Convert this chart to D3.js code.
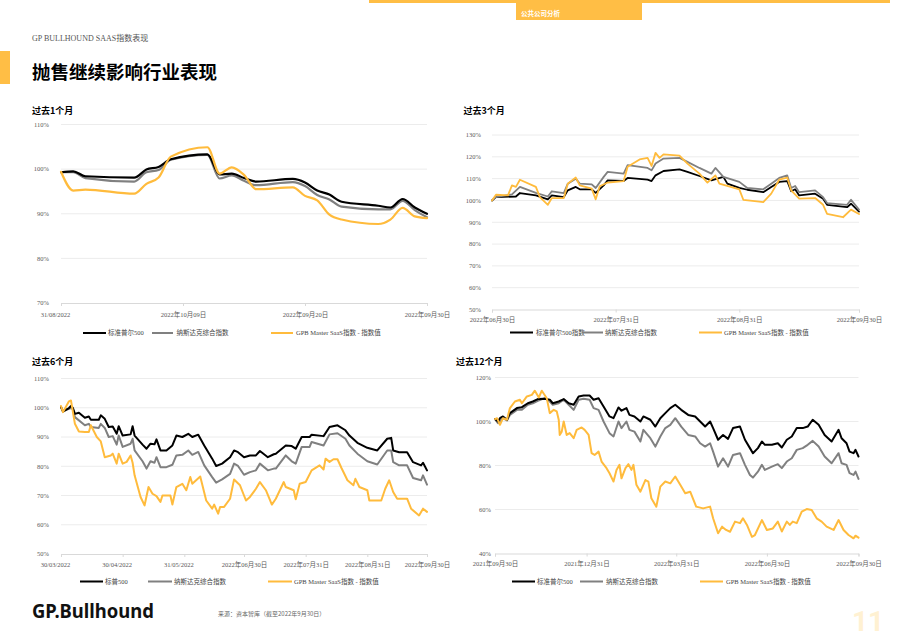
<!DOCTYPE html>
<html>
<head>
<meta charset="utf-8">
<script src="https://cdn.jsdelivr.net/npm/d3@7"></script>
<style>
  body { margin: 0; background: #fff; }
  svg { display: block; }
</style>
</head>
<body>
<div id="page"></div>
<script>
// ---------- data: 1 month (trading days after 2022-08-31) ----------
const days1m = [0, 1, 2, 6, 7, 8, 9, 12, 13, 14, 15, 16, 19, 20, 21, 22, 23, 26, 27, 28, 29, 30];
const sp1m   = [99.3, 99.5, 98.4, 98.1, 99.9, 100.5, 102.2, 103.3, 98.8, 99.0, 98.0, 97.2, 97.8, 97.0, 95.2, 94.3, 92.7, 91.8, 91.4, 93.3, 91.4, 90.0];
const nq1m   = [99.3, 99.3, 98.0, 97.2, 99.3, 99.8, 102.1, 103.2, 97.9, 98.6, 97.4, 96.4, 97.1, 96.2, 94.2, 93.2, 91.6, 91.0, 91.0, 92.9, 90.8, 89.2];
const saas1m = [99.4, 95.2, 95.4, 94.5, 96.7, 98.1, 102.8, 104.9, 99.0, 100.4, 98.7, 95.5, 95.9, 94.0, 93.0, 89.8, 88.7, 87.7, 88.7, 91.3, 89.4, 89.0];
const ticks1m  = [0, 10, 20, 30];
const labels1m = ["31/08/2022", "2022年10月09日", "2022年09月20日", "2022年09月30日"];

// ---------- data: 3 months ([days after 2022-06-30, %]) ----------
const sp3m = [[0,100],[1,101.5],[6,101.8],[7,103.4],[11,102.3],[14,100.5],[15,102.3],[18,101.5],[19,104.6],[21,106.2],[22,105.1],[25,105.1],[26,103.5],[28,106.9],[29,109.2],[33,108.9],[34,110.3],[39,109.5],[40,108.9],[41,111.5],[43,113.5],[47,114.2],[49,113.1],[52,111.2],[55,109.2],[58,110.8],[59,107.7],[62,105.8],[64,104.9],[68,103.8],[70,106.2],[72,108.5],[74,108.9],[75,104.2],[76,105.1],[77,102.3],[81,103.1],[83,100.8],[84,98],[89,96.9],[90,98.5],[92,94.9]];
const nq3m = [[0,100],[1,101.5],[5,102.8],[7,106.2],[11,103.5],[14,101.8],[15,104.2],[18,103.4],[19,107.7],[21,110],[22,107.7],[25,107.4],[26,105.7],[28,110.8],[29,113.1],[33,112.3],[34,116.2],[39,114.9],[40,113.8],[41,116.9],[43,119.2],[47,119.5],[49,117.7],[52,114.9],[55,112.3],[56,114.9],[58,110.8],[62,108.5],[64,105.7],[68,105.1],[70,107.7],[72,110.3],[74,111.5],[75,105.7],[76,106.6],[77,103.8],[81,104.6],[83,101.5],[84,98.8],[89,98],[90,100.3],[92,95.8]];
const saas3m = [[0,100],[1,102.6],[4,102.3],[5,106.9],[6,106.2],[7,109.5],[11,106.2],[12,101.5],[14,98],[15,101.1],[18,101.1],[19,107.7],[21,110.5],[22,106.9],[25,105.4],[26,100.5],[27,106.5],[29,108.2],[33,108.9],[34,115.4],[37,118.8],[39,119.5],[40,115.8],[41,121.8],[42,119.5],[43,121.1],[47,120.5],[49,116.9],[52,112.3],[54,108.2],[56,111.5],[57,107.7],[62,105.1],[63,100.3],[67,99.5],[68,99.2],[70,103.1],[72,109.5],[74,110.5],[75,104.6],[77,100.8],[81,101.1],[83,98],[84,93.8],[88,92.3],[90,95.8],[92,93.8]];
const ticks3m  = ["2022-06-30", "2022-07-31", "2022-08-31", "2022-09-30"];
const labels3m = ["2022年06月30日", "2022年07月31日", "2022年08月31日", "2022年09月30日"];

// ---------- data: 6 months ([days after 2022-03-30, %]) ----------
const sp6m = [[0,100.2],[1,98.7],[4,99.9],[5,100.6],[6,99.9],[7,97.9],[9,98.3],[12,96.6],[14,97],[15,95.9],[19,95.9],[20,97.4],[22,96.2],[24,93.4],[26,93.6],[28,91.1],[29,93.7],[31,90.5],[35,90.9],[36,93.7],[37,90.5],[41,87.4],[43,86],[45,87.7],[47,87.5],[48,89.2],[50,85.4],[53,85.4],[56,87.1],[58,90.5],[61,90],[64,91.1],[66,90],[69,90.8],[72,87.1],[76,82.6],[78,80.1],[81,80.9],[85,83.1],[87,85.4],[89,84.8],[92,83.1],[95,83.7],[98,83.7],[100,85.2],[104,83.1],[107,84.1],[108,84.3],[113,87.1],[116,86.9],[118,86],[121,90],[125,90],[126,90.8],[132,90.3],[135,93.4],[139,94],[143,92.3],[145,90.5],[149,88],[154,86.3],[159,85.4],[164,89.4],[166,89.7],[167,85.4],[170,84.8],[174,84.8],[177,81.4],[181,80.3],[182,81.2],[184,78.6]];
const nq6m = [[0,100.2],[1,98.9],[5,99.9],[6,99.5],[7,96.8],[12,94],[14,94.5],[15,93.4],[19,93.1],[20,94.5],[22,93.1],[24,90],[26,90.3],[28,87.4],[29,90.5],[31,86.6],[35,87.7],[36,89.4],[37,85.4],[41,81.7],[43,79.2],[45,81.7],[47,81.2],[48,83.1],[50,79.7],[53,79.7],[56,80.5],[58,83.7],[61,83.9],[64,85.4],[66,83.9],[69,84.9],[72,80.3],[76,76.3],[78,74.4],[81,75.5],[85,77.4],[87,80.9],[89,80.1],[92,77.1],[95,78],[98,78.6],[100,80.9],[104,78.6],[107,79.2],[108,79.2],[113,83.7],[116,81.7],[118,80.9],[121,86.6],[125,86.6],[126,88.3],[132,87.1],[135,90.9],[139,91.3],[143,89.4],[145,87.1],[149,84.3],[154,81.7],[159,80.6],[164,85.4],[166,85.4],[167,81.4],[170,80.3],[174,80.3],[177,76],[181,75.2],[182,76.9],[184,73.7]];
const saas6m = [[0,100.6],[1,98.5],[4,102.2],[5,102.5],[7,94.5],[9,91.9],[12,91.7],[14,91.7],[15,94],[18,90],[20,88.5],[22,83.1],[25,83.7],[26,84.3],[28,80.9],[29,84.3],[31,80.9],[33,81.5],[35,83.7],[36,81.2],[37,76.9],[40,69.5],[42,66.6],[44,72.9],[46,70.6],[48,69.8],[50,67.8],[51,70],[55,70],[56,66.9],[58,72.9],[61,74],[63,71.8],[65,76.3],[66,74],[70,76.5],[73,68.3],[76,65.5],[77,66.9],[79,63.8],[80,66.1],[82,66.1],[85,68.9],[87,75.5],[90,73.5],[92,70],[93,68.3],[95,69.5],[98,72.3],[100,74.6],[103,71.8],[106,66.9],[108,68.9],[112,74.6],[113,72.9],[117,71.8],[118,68.7],[120,74],[123,74.6],[126,78.6],[130,80.3],[132,78.9],[133,82.6],[135,81.5],[137,82.4],[139,82.4],[141,79.4],[144,75.2],[147,73.5],[148,75.7],[150,72.9],[154,71.8],[155,68.3],[159,68.3],[161,68.3],[163,72.3],[165,75.2],[167,71.2],[169,68.9],[174,68.9],[176,65.5],[180,63.2],[182,65.5],[184,64.4]];
const ticks6m  = ["2022-03-30", "2022-04-30", "2022-05-31", "2022-06-30", "2022-07-31", "2022-08-31", "2022-09-30"];
const labels6m = ["30/03/2022", "30/04/2022", "31/05/2022", "2022年06月30日", "2022年07月31日", "2022年08月31日", "2022年09月30日"];

// ---------- data: 12 months ([days after 2021-09-30, %]) ----------
const sp12m = [[0,101.1],[3,100],[5,101.5],[8,102.3],[12,100.8],[15,103.8],[22,106.1],[27,106.5],[33,108.3],[38,109.1],[43,110.2],[50,110.3],[55,109.9],[58,108.3],[64,109.1],[69,110.2],[74,108.3],[79,107.6],[84,111.4],[89,111.8],[95,111.8],[99,109.9],[104,110.6],[109,106.8],[115,102.3],[119,101.5],[124,106.4],[127,104.9],[132,106.1],[135,103],[140,102.3],[146,100],[149,102.3],[156,100.8],[161,97.7],[166,101.5],[171,103.8],[176,106.1],[181,107.6],[187,105.3],[194,103],[201,102.3],[206,100],[211,97.7],[216,100],[219,97],[224,91.7],[229,93.9],[234,92.1],[239,97],[246,97.7],[251,91.7],[256,87.9],[259,85.6],[264,87.9],[268,90.9],[271,89.4],[278,89.4],[284,90.1],[288,88.2],[293,91.7],[298,93.2],[303,97],[309,97],[314,97.7],[319,100.8],[325,98.5],[331,93.9],[338,90.9],[345,96.2],[348,92.4],[353,90.1],[356,86.3],[360,85.6],[362,87.1],[365,84.1]];
const nq12m = [[0,101.1],[3,99.2],[8,101.5],[12,100.5],[15,103],[22,105.3],[27,105.3],[33,107.6],[38,108.3],[43,109.4],[50,110.6],[55,109.1],[58,107.6],[64,108.3],[69,109.9],[74,107.6],[79,105.3],[84,109.9],[89,110.3],[95,109.9],[99,106.1],[104,105.3],[109,100],[115,94.7],[119,93.2],[124,100],[127,97],[132,100],[135,96.2],[140,95.4],[146,90.9],[149,96.2],[156,92.4],[161,88.6],[166,93.2],[171,97],[176,98.5],[181,101.5],[187,97.7],[194,93.9],[201,93.2],[206,90.1],[211,88.6],[216,90.1],[219,86.3],[224,79.5],[229,83.3],[234,79.5],[239,84.8],[246,85.6],[251,80.3],[256,75.7],[259,74.5],[264,77.2],[268,80.3],[271,78],[278,79.5],[284,80.6],[288,78.8],[293,81.8],[298,83.3],[303,87.1],[309,87.9],[314,89.4],[319,91.2],[325,88.6],[331,84.1],[338,81],[345,85.6],[348,81],[353,80.3],[356,76.5],[360,75.7],[362,77.2],[365,73.9]];
const saas12m = [[0,101.1],[2,101.5],[5,98.5],[8,101.5],[12,100.8],[15,106.1],[20,109.1],[25,109.9],[27,108.3],[32,111.4],[37,112.1],[40,114],[44,110.9],[47,114],[52,110.6],[55,103.8],[59,105.3],[62,104.6],[64,100.8],[65,93.9],[67,95.4],[69,100],[72,93.9],[75,94.7],[79,92.4],[82,96.2],[87,97.3],[90,96.2],[94,93.9],[97,85.6],[100,84.8],[104,86.3],[107,81.8],[112,78.8],[115,76.5],[119,72.7],[122,78],[125,80.3],[127,74.2],[131,78.8],[134,80.6],[137,78],[139,80.3],[142,71.2],[146,68.1],[151,73.4],[154,72.7],[157,65.1],[162,61.3],[166,70.4],[171,72.7],[176,71.9],[181,75],[186,71.2],[191,67.4],[196,68.1],[202,61.3],[209,60.5],[216,61.3],[219,56],[224,49.2],[228,52.2],[232,50.7],[236,49.9],[241,54.5],[246,53.8],[249,56],[253,53],[258,47.6],[261,48.4],[268,55.2],[273,50.7],[279,51.4],[284,54.5],[288,50],[293,54.5],[296,53],[299,54.5],[303,53.8],[308,59],[313,60.2],[318,59.8],[323,56],[328,54.5],[333,52.2],[340,50.7],[345,55.2],[350,50.7],[355,48.4],[360,46.9],[362,48.1],[365,47.2]];
const ticks12m  = ["2021-09-30", "2021-12-31", "2022-03-31", "2022-06-30", "2022-09-30"];
const labels12m = ["2021年09月30日", "2021年12月31日", "2022年03月31日", "2022年06月30日", "2022年09月30日"];

// ---------- page ----------
const W = 920, H = 637;
const BLACK = "#000000", GRAY = "#808080", YELLOW = "#FFBB3C";
const SERIF = "'Liberation Serif', 'Noto Sans CJK SC', serif";
const CJK = "'Noto Sans CJK SC', 'Noto Sans', sans-serif";
const parse = d3.timeParse("%Y-%m-%d");

const svg = d3.select("#page").append("svg")
  .attr("width", W)
  .attr("height", H);

// header band and tab
svg.append("rect").attr("x", 369).attr("y", 0).attr("width", 521).attr("height", 3).attr("fill", "#FFBE45");
svg.append("rect").attr("x", 516).attr("y", 0).attr("width", 126).attr("height", 20).attr("fill", "#FFBE45");
svg.append("text").attr("x", 521).attr("y", 16)
  .style("font-family", CJK).style("font-size", "6.5px").style("font-weight", 700)
  .attr("fill", "#fff").text("公共公司分析");

svg.append("text").attr("x", 32).attr("y", 40.5)
  .style("font-family", SERIF).style("font-size", "8px").attr("fill", "#555")
  .text("GP BULLHOUND SAAS指数表现");

svg.append("rect").attr("x", 0).attr("y", 51).attr("width", 10).attr("height", 33).attr("fill", "#FFBE45");
svg.append("text").attr("x", 32).attr("y", 78.5)
  .style("font-family", CJK).style("font-size", "18.5px").style("font-weight", 700)
  .attr("fill", "#000").text("抛售继续影响行业表现");

// footer
svg.append("text").attr("x", 32).attr("y", 618)
  .style("font-family", "'Noto Sans', sans-serif").style("font-size", "20px").style("font-weight", 700)
  .attr("textLength", 122).attr("lengthAdjust", "spacingAndGlyphs")
  .attr("fill", "#111").text("GP.Bullhound");
svg.append("text").attr("x", 218).attr("y", 615.5)
  .style("font-family", CJK).style("font-size", "6px").attr("fill", "#666")
  .text("来源：资本智库（截至2022年9月30日）");
svg.append("text").attr("x", 852).attr("y", 631)
  .style("font-family", "'Roboto', sans-serif").style("font-size", "28px").style("font-weight", 700)
  .attr("fill", "#FFF1D2").text("11");

// ---------- one panel ----------
function drawPanel(cfg) {
  const g = svg.append("g");

  g.append("text").attr("x", cfg.titleX).attr("y", cfg.titleY)
    .style("font-family", CJK).style("font-size", "9px").style("font-weight", 700)
    .attr("fill", "#000").text(cfg.title);

  const x = d3.scaleTime().domain([cfg.start, cfg.end]).range([cfg.x0, cfg.x1]);
  const y = d3.scaleLinear().domain(cfg.yDomain).range([cfg.yBot, cfg.yTop]);

  // gridlines
  g.append("g").selectAll("line")
    .data(cfg.yTicks.slice(1))
    .join("line")
    .attr("x1", cfg.x0).attr("x2", cfg.x1)
    .attr("y1", d => y(d)).attr("y2", d => y(d))
    .attr("stroke", "#ececec").attr("stroke-width", 1);

  // y labels
  g.append("g").selectAll("text")
    .data(cfg.yTicks)
    .join("text")
    .attr("x", cfg.x0 - cfg.labelGap)
    .attr("y", d => y(d))
    .attr("dy", "0.35em")
    .attr("text-anchor", "end")
    .style("font-family", SERIF).style("font-size", "6.5px")
    .attr("fill", "#595959")
    .text(d => d + "%");

  // x axis
  const xAxis = d3.axisBottom(x)
    .tickValues(cfg.tickDates)
    .tickSize(3)
    .tickFormat((d, i) => cfg.tickLabels[i]);
  const ax = g.append("g")
    .attr("transform", `translate(0,${cfg.yBot})`)
    .call(xAxis);
  ax.select(".domain").attr("stroke", "#d9d9d9");
  ax.selectAll(".tick line").attr("stroke", "#d9d9d9");
  ax.selectAll(".tick text")
    .attr("y", cfg.labelDy)
    .attr("dx", (d, i) => cfg.tickLabels[i].includes("/") ? -6 : 0)
    .style("font-family", SERIF).style("font-size", "6.5px")
    .attr("fill", "#595959");

  // lines
  const line = d3.line()
    .x(d => x(d[0]))
    .y(d => y(d[1]))
    .curve(cfg.curve);

  cfg.series.forEach(s => {
    g.append("path")
      .datum(s.data.map(p => [d3.timeDay.offset(cfg.start, p[0]), p[1]]))
      .attr("d", line)
      .attr("fill", "none")
      .attr("stroke", s.color)
      .attr("stroke-width", cfg.lw)
      .attr("stroke-linejoin", "round")
      .attr("stroke-linecap", "round");
  });

  // legend
  const leg = g.append("g").selectAll("g")
    .data(cfg.legend)
    .join("g");
  leg.append("line")
    .attr("x1", d => d.x1).attr("x2", d => d.x2)
    .attr("y1", cfg.legendY).attr("y2", cfg.legendY)
    .attr("stroke", d => d.color).attr("stroke-width", 2);
  leg.append("text")
    .attr("x", d => d.tx).attr("y", cfg.legendY).attr("dy", "0.35em")
    .style("font-family", SERIF).style("font-size", "6.5px")
    .attr("fill", "#444")
    .text(d => d.label);
}

const zip = (days, vals) => days.map((d, i) => [d, vals[i]]);
const start1m = parse("2022-08-31");

drawPanel({
  title: "过去1个月", titleX: 32, titleY: 114,
  x0: 61, x1: 427, yTop: 124.5, yBot: 303, labelGap: 12, labelDy: 9,
  yDomain: [70, 110], yTicks: [70, 80, 90, 100, 110],
  start: start1m, end: parse("2022-09-30"),
  tickDates: ticks1m.map(d => d3.timeDay.offset(start1m, d)), tickLabels: labels1m,
  curve: d3.curveMonotoneX, lw: 2.2,
  series: [
    { data: zip(days1m, nq1m), color: GRAY },
    { data: zip(days1m, sp1m), color: BLACK },
    { data: zip(days1m, saas1m), color: YELLOW }
  ],
  legendY: 333,
  legend: [
    { x1: 83, x2: 106, tx: 108, label: "标准普尔500", color: BLACK },
    { x1: 152, x2: 173, tx: 176.5, label: "纳斯达克综合指数", color: GRAY },
    { x1: 271, x2: 293, tx: 296, label: "GPB Master SaaS指数 - 指数值", color: YELLOW }
  ]
});

drawPanel({
  title: "过去3个月", titleX: 463.5, titleY: 114,
  x0: 492, x1: 859, yTop: 135, yBot: 309.5, labelGap: 11, labelDy: 8,
  yDomain: [50, 130], yTicks: [50, 60, 70, 80, 90, 100, 110, 120, 130],
  start: parse("2022-06-30"), end: parse("2022-09-30"),
  tickDates: ticks3m.map(parse), tickLabels: labels3m,
  curve: d3.curveLinear, lw: 1.8,
  series: [
    { data: sp3m, color: BLACK },
    { data: nq3m, color: GRAY },
    { data: saas3m, color: YELLOW }
  ],
  legendY: 332.5,
  legend: [
    { x1: 510, x2: 533, tx: 536, label: "标准普尔500指数", color: BLACK },
    { x1: 582, x2: 603, tx: 605, label: "纳斯达克综合指数", color: GRAY },
    { x1: 699, x2: 722, tx: 724, label: "GPB Master SaaS指数 - 指数值", color: YELLOW }
  ]
});

drawPanel({
  title: "过去6个月", titleX: 32, titleY: 365,
  x0: 61, x1: 427, yTop: 378.5, yBot: 554, labelGap: 12, labelDy: 8,
  yDomain: [50, 110], yTicks: [50, 60, 70, 80, 90, 100, 110],
  start: parse("2022-03-30"), end: parse("2022-09-30"),
  tickDates: ticks6m.map(parse), tickLabels: labels6m,
  curve: d3.curveLinear, lw: 2,
  series: [
    { data: nq6m, color: GRAY },
    { data: sp6m, color: BLACK },
    { data: saas6m, color: YELLOW }
  ],
  legendY: 581.5,
  legend: [
    { x1: 80, x2: 103, tx: 105, label: "标普500", color: BLACK },
    { x1: 148, x2: 172, tx: 174, label: "纳斯达克综合指数", color: GRAY },
    { x1: 268, x2: 292, tx: 294, label: "GPB Master SaaS指数 - 指数值", color: YELLOW }
  ]
});

drawPanel({
  title: "过去12个月", titleX: 456, titleY: 365,
  x0: 495, x1: 858.5, yTop: 377.5, yBot: 553.5, labelGap: 4, labelDy: 8,
  yDomain: [40, 120], yTicks: [40, 60, 80, 100, 120],
  start: parse("2021-09-30"), end: parse("2022-09-30"),
  tickDates: ticks12m.map(parse), tickLabels: labels12m,
  curve: d3.curveLinear, lw: 2,
  series: [
    { data: nq12m, color: GRAY },
    { data: sp12m, color: BLACK },
    { data: saas12m, color: YELLOW }
  ],
  legendY: 581.5,
  legend: [
    { x1: 512, x2: 535, tx: 537, label: "标准普尔500", color: BLACK },
    { x1: 580, x2: 603, tx: 606, label: "纳斯达克综合指数", color: GRAY },
    { x1: 700, x2: 723, tx: 726, label: "GPB Master SaaS指数 - 指数值", color: YELLOW }
  ]
});
</script>
</body>
</html>
